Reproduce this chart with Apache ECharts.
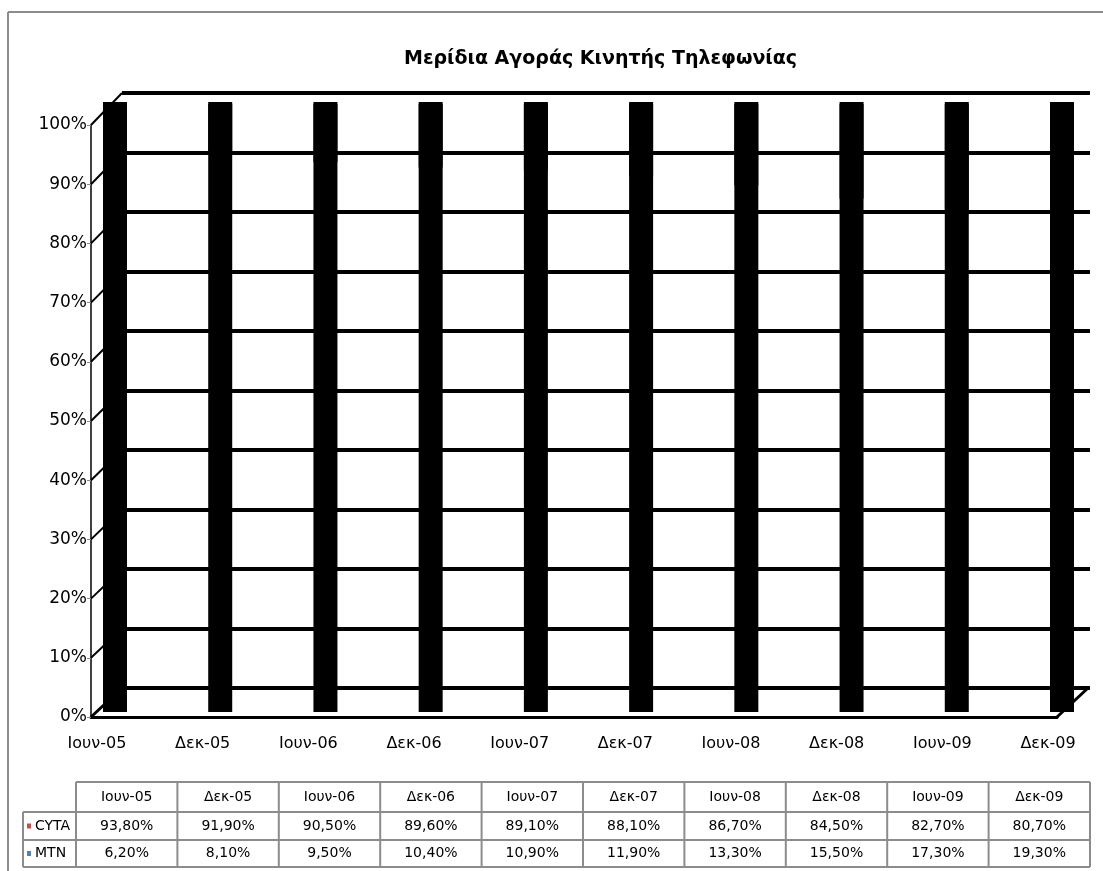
<!DOCTYPE html>
<html lang="el">
<head>
<meta charset="utf-8">
<title>Μερίδια Αγοράς Κινητής Τηλεφωνίας</title>
<script src="https://cdn.jsdelivr.net/npm/echarts@6/dist/echarts.min.js"></script>
<style>
    html, body { margin: 0; padding: 0; background: #fff; }
    #main { width: 1103px; height: 871px; }
</style>
</head>
<body>
<div id="main"></div>
<script>
    // data
    var months = ['Ιουν-05', 'Δεκ-05', 'Ιουν-06', 'Δεκ-06', 'Ιουν-07', 'Δεκ-07', 'Ιουν-08', 'Δεκ-08', 'Ιουν-09', 'Δεκ-09'];
    var cyta = [93.8, 91.9, 90.5, 89.6, 89.1, 88.1, 86.7, 84.5, 82.7, 80.7];
    var mtn = [6.2, 8.1, 9.5, 10.4, 10.9, 11.9, 13.3, 15.5, 17.3, 19.3];
    var seriesNames = ['CYTA', 'MTN'];
    var keyColors = ['#c0504d', '#4f81bd'];
    var yTicks = [0, 10, 20, 30, 40, 50, 60, 70, 80, 90, 100];

    var FONT = '"DejaVu Sans", Verdana, sans-serif';

    function pct(v) {
        return v.toFixed(2).replace('.', ',') + '%';
    }

    // data table under the chart
    function tableGraphics() {
        var g = [];
        var x0 = 76, cw = 101.4, lab = 23;
        var rows = [782, 812, 840, 867];
        var right = x0 + cw * months.length;
        var line = { stroke: '#8c8c8c', lineWidth: 2 };
        g.push({ type: 'line', shape: { x1: x0, y1: rows[0], x2: right, y2: rows[0] }, style: line });
        for (var r = 1; r < rows.length; r++) {
            g.push({ type: 'line', shape: { x1: lab, y1: rows[r], x2: right, y2: rows[r] }, style: line });
        }
        g.push({ type: 'line', shape: { x1: lab, y1: rows[1], x2: lab, y2: rows[3] }, style: line });
        for (var c = 0; c <= months.length; c++) {
            var x = x0 + c * cw;
            g.push({ type: 'line', shape: { x1: x, y1: rows[0], x2: x, y2: rows[3] }, style: line });
        }
        var rowVals = [cyta, mtn];
        for (var i = 0; i < months.length; i++) {
            var cx = x0 + cw * (i + 0.5);
            g.push({ type: 'text', x: cx, y: (rows[0] + rows[1]) / 2,
                style: { text: months[i], font: '14px ' + FONT, fill: '#000', align: 'center', verticalAlign: 'middle' } });
            for (var s = 0; s < rowVals.length; s++) {
                g.push({ type: 'text', x: cx, y: (rows[s + 1] + rows[s + 2]) / 2,
                    style: { text: pct(rowVals[s][i]), font: '14px ' + FONT, fill: '#000', align: 'center', verticalAlign: 'middle' } });
            }
        }
        for (var k = 0; k < seriesNames.length; k++) {
            var cy = (rows[k + 1] + rows[k + 2]) / 2;
            g.push({ type: 'rect', shape: { x: 27, y: cy - 2.5, width: 4, height: 5 }, style: { fill: keyColors[k] } });
            g.push({ type: 'text', x: 35, y: cy,
                style: { text: seriesNames[k], font: '14px ' + FONT, fill: '#000', align: 'left', verticalAlign: 'middle' } });
        }
        return g;
    }

    var graphics = [
        { type: 'line', shape: { x1: 8, y1: 12, x2: 1103, y2: 12 }, style: { stroke: '#8c8c8c', lineWidth: 2 } },
        { type: 'line', shape: { x1: 8, y1: 12, x2: 8, y2: 871 }, style: { stroke: '#8c8c8c', lineWidth: 2 } }
    ].concat(tableGraphics());

    var myChart = echarts.init(document.getElementById('main'));
    var option = {
        animation: false,
        title: {
            text: 'Μερίδια Αγοράς Κινητής Τηλεφωνίας',
            left: 399,
            top: 45,
            textStyle: { fontFamily: FONT, fontWeight: 'bold', fontSize: 19, color: '#000' }
        },
        grid: [
            { left: 122, right: 13, top: 93, bottom: 183 },   // back wall
            { left: 91, right: 46, top: 125, bottom: 154 },   // front axes
            { left: 97, right: 55, top: 125, bottom: 154 },   // category labels
            { left: 115, right: 41, top: 102, bottom: 159 }   // columns
        ],
        xAxis: [
            { gridIndex: 0, type: 'category', data: months, show: false },
            { gridIndex: 1, type: 'category', data: months, boundaryGap: false,
                axisLine: { lineStyle: { color: '#000', width: 3 } },
                axisTick: { show: false }, axisLabel: { show: false } },
            { gridIndex: 2, type: 'category', data: months, boundaryGap: false,
                axisLine: { show: false }, axisTick: { show: false },
                axisLabel: { color: '#000', fontSize: 16, fontFamily: FONT, margin: 19, interval: 0 } },
            { gridIndex: 3, type: 'category', data: months, boundaryGap: false, show: false }
        ],
        yAxis: [
            { gridIndex: 0, type: 'value', min: 0, max: 100, interval: 10,
                axisLine: { show: false }, axisTick: { show: false }, axisLabel: { show: false },
                splitLine: { lineStyle: { color: '#000', width: 4 } } },
            { gridIndex: 1, type: 'value', min: 0, max: 100, interval: 10,
                axisLine: { show: true, lineStyle: { color: '#000', width: 1.5 } },
                axisTick: { show: true, length: 4, lineStyle: { color: '#888' } },
                axisLabel: { color: '#000', fontSize: 17, fontFamily: FONT, margin: 4, formatter: '{value}%' },
                splitLine: { show: false } },
            { gridIndex: 2, type: 'value', min: 0, max: 100, show: false, splitLine: { show: false } },
            { gridIndex: 3, type: 'value', min: 0, max: 100, show: false, splitLine: { show: false } }
        ],
        series: [
            { name: seriesNames[0], type: 'bar', xAxisIndex: 3, yAxisIndex: 3, stack: 'share',
                barWidth: 24, clip: false, data: cyta,
                itemStyle: { color: '#000' } },
            // the shadow hides the antialiasing seam where the two stacked parts meet
            { name: seriesNames[1], type: 'bar', xAxisIndex: 3, yAxisIndex: 3, stack: 'share',
                barWidth: 24, clip: false, data: mtn,
                itemStyle: { color: '#000', shadowColor: '#000', shadowBlur: 0, shadowOffsetY: 2 } }
        ],
        graphic: graphics
    };
    myChart.setOption(option);

    // 3D side wall lines and floor edge, placed via the axes' own scales
    var extra = [];
    for (var i = 0; i < yTicks.length; i++) {
        var yf = myChart.convertToPixel({ yAxisIndex: 1 }, yTicks[i]);
        var yb = myChart.convertToPixel({ yAxisIndex: 0 }, yTicks[i]);
        extra.push({ type: 'line', shape: { x1: 91, y1: yf, x2: 122, y2: yb },
            style: { stroke: '#000', lineWidth: i === 0 ? 3 : 2 } });
    }
    var f0 = myChart.convertToPixel({ yAxisIndex: 1 }, 0);
    var b0 = myChart.convertToPixel({ yAxisIndex: 0 }, 0);
    extra.push({ type: 'line', shape: { x1: 1057, y1: f0, x2: 1088, y2: b0 }, style: { stroke: '#000', lineWidth: 3 } });
    myChart.setOption({ graphic: graphics.concat(extra) });
</script>
</body>
</html>
